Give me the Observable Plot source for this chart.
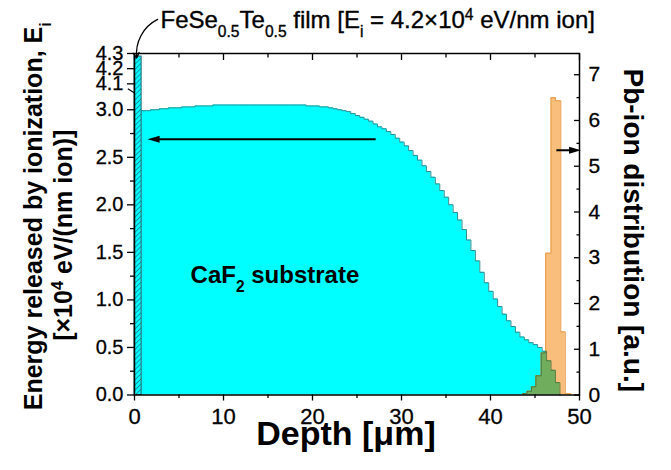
<!DOCTYPE html>
<html><head><meta charset="utf-8">
<script src="https://cdn.jsdelivr.net/npm/d3@7"></script>
<script src="https://cdn.jsdelivr.net/npm/@observablehq/plot@0.6"></script>
<style>body{margin:0;background:#fff;} #chart{width:671px;height:470px;}</style>
</head><body><div id="chart"></div>
<script>
// ---------- data ----------
const filmDepth = [0, 0.8];          // µm, FeSe0.5Te0.5 film
const filmEi = 4.28;                 // ×10^4 eV/(nm ion)

// CaF2 substrate: energy released by ionization, bin left edges (µm) and values
const cyanDepth = [0.8,1.3,1.8,2.3,2.8,3.3,3.8,4.3,4.8,5.3,5.8,6.3,6.8,7.3,7.8,8.3,8.8,
  9.3,9.8,10.3,10.8,11.3,11.8,12.3,12.8,13.3,13.8,14.3,14.8,15.3,15.8,16.3,16.8,17.3,17.8,18.3,18.8,
  19.3,19.8,20.3,20.8,21.3,21.8,22.3,22.8,23.3,23.8,24.3,24.8,25.3,25.8,26.3,26.8,27.3,27.8,28.3,28.8,
  29.3,29.8,30.3,30.8,31.3,31.8,32.3,32.8,33.3,33.8,34.3,34.8,35.3,35.8,36.3,36.8,37.3,37.8,38.3,38.8,
  39.3,39.8,40.3,40.8,41.3,41.8,42.3,42.8,43.3,43.8,44.3,44.8,45.3,45.8,46.3,46.8,47.3,47.8];
const cyanEi = [2.99,2.99,3.00,3.00,3.01,3.01,3.02,3.02,3.02,3.03,3.03,3.03,3.04,3.04,3.04,3.04,3.05,
  3.05,3.05,3.05,3.05,3.05,3.05,3.05,3.05,3.05,3.05,3.05,3.05,3.05,3.05,3.05,3.05,3.05,3.05,3.05,3.05,
  3.04,3.04,3.04,3.03,3.03,3.02,3.01,3.00,2.99,2.98,2.96,2.94,2.92,2.90,2.88,2.85,2.82,2.80,2.77,2.74,
  2.70,2.66,2.62,2.57,2.52,2.47,2.41,2.35,2.29,2.22,2.15,2.08,2.00,1.92,1.84,1.74,1.63,1.52,1.41,1.29,
  1.18,1.09,1.01,0.93,0.85,0.78,0.72,0.66,0.61,0.58,0.55,0.53,0.50,0.46,0.36,0.26,0.13,0];

// Pb-ion distribution [a.u.], bin left edges (µm) and values
const pbDepth = [43.6,44.1,44.6,45.1,45.7,46.2,46.8,47.3,47.9,48.4,49.0];
const pbDist  = [0.03,0.08,0.18,0.42,0.92,3.10,6.50,6.43,1.38,0.03,0];

// ticks
const xMajor = [0,10,20,30,40,50];
const xMinor = [5,15,25,35,45];
const leftMajor = [0,0.5,1.0,1.5,2.0,2.5,3.0,4.1,4.2,4.3];
const leftMinor = [0.25,0.75,1.25,1.75,2.25,2.75];
const rightMajor = [0,1,2,3,4,5,6,7];
const rightMinor = [0.5,1.5,2.5,3.5,4.5,5.5,6.5];

// texts
const xTitle = "Depth [μm]";
const yTitle1 = "Energy released by ionization, E_{i}";
const yTitle2 = "[×10^{4} eV/(nm ion)]";
const y2Title = "Pb-ion distribution [a.u.]";
const filmNote = "FeSe_{0.5}Te_{0.5} film [E_{i} = 4.2×10^{4} eV/nm ion]";
const substrateNote = "CaF_{2} substrate";

// ---------- broken left axis mapping ----------
const BRK_LO = 3.22, BRK_HI = 4.067, TOPK = 1.595;
const disp = v => v <= BRK_LO ? v : (v >= BRK_HI ? BRK_LO + (v - BRK_HI) * TOPK : BRK_LO);
const RK = 0.4812; // right-axis unit in left display units

const cyanRows = cyanDepth.map((x, i) => ({x, y: disp(cyanEi[i])}));
const pbRows = pbDepth.map((x, i) => ({x, y: pbDist[i] * RK}));
function stepVal(edges, vals, x) {
  if (x < edges[0] || x >= edges[edges.length - 1]) return 0;
  return vals[d3.bisectRight(edges, x) - 1];
}
const cy = cyanRows.map(d => d.y), py = pbRows.map(d => d.y);
const lo = pbDepth[0], hi = Math.min(cyanDepth[cyanDepth.length-1], pbDepth[pbDepth.length-1]);
const mergedEdges = Array.from(new Set([...cyanDepth, ...pbDepth])).filter(x => x >= lo && x <= hi).sort((a,b)=>a-b);
const greenRows = mergedEdges.map(x => ({x, y: x >= hi ? 0 : Math.min(stepVal(cyanDepth, cy, x), stepVal(pbDepth, py, x))}));

const film = [{x1: filmDepth[0], x2: filmDepth[1], y: filmEi}];
const arrowsH = [
  {x1: 27.1, x2: 2.15, y: 2.69, dir: "left"},
  {x1: 47.4, x2: 49.5, y: 2.574, dir: "right"}
];
const headSym = {draw(ctx) { ctx.moveTo(-6, 0); ctx.lineTo(6, -3.6); ctx.lineTo(6, 3.6); ctx.closePath(); }};

const CYAN = "#00ffff", CYAN_EDGE = "#2a8f94", ORANGE = "#f9bd7c", ORANGE_EDGE = "#e79a45",
      GREEN = "#70ad5c", GREEN_EDGE = "#3c6e3a";
const FONT = "'Liberation Sans', Arial, Helvetica, sans-serif";
const TXT = {fill: "black", stroke: "black", strokeWidth: 0.35};
const TICKTXT = {textStroke: "black", textStrokeWidth: 0.3};

const plot = Plot.plot({
  width: 671, height: 470,
  marginLeft: 134, marginRight: 92, marginTop: 53, marginBottom: 75.5,
  style: {fontFamily: FONT, background: "white", color: "black", overflow: "visible"},
  x: {domain: [0, 50], axis: null},
  y: {domain: [0, disp(4.3)], axis: null},
  marks: [
    Plot.areaY(cyanRows, {x: "x", y: "y", curve: "step-after", fill: CYAN}),
    Plot.lineY(cyanRows, {x: "x", y: "y", curve: "step-after", stroke: CYAN_EDGE, strokeWidth: 1}),
    Plot.areaY(pbRows, {x: "x", y: "y", curve: "step-after", fill: ORANGE}),
    Plot.lineY(pbRows, {x: "x", y: "y", curve: "step-after", stroke: ORANGE_EDGE, strokeWidth: 1}),
    Plot.areaY(greenRows, {x: "x", y: "y", curve: "step-after", fill: GREEN}),
    Plot.lineY(greenRows, {x: "x", y: "y", curve: "step-after", stroke: GREEN_EDGE, strokeWidth: 0.8}),
    Plot.rectY(film, {x1: "x1", x2: "x2", y: d => disp(d.y), fill: CYAN}),
    Plot.rectY(film, {x1: "x1", x2: "x2", y: d => disp(d.y), fill: "url(#filmHatch)", stroke: "#1d6670", strokeWidth: 1}),
    Plot.frame({stroke: "black", strokeWidth: 1.5}),
    // x axes
    Plot.axisX(xMajor, {anchor: "bottom", tickSize: 6, tickPadding: 7, fontSize: 22, strokeWidth: 1.3, label: null, ...TICKTXT}),
    Plot.axisX(xMinor, {anchor: "bottom", tickSize: 3.5, fill: "none", strokeWidth: 1.3, label: null}),
    Plot.axisX(xMajor, {anchor: "top", tickSize: 6, dy: 6, fill: "none", strokeWidth: 1.3, label: null}),
    Plot.axisX(xMinor, {anchor: "top", tickSize: 3.5, dy: 3.5, fill: "none", strokeWidth: 1.3, label: null}),
    // left axis (broken)
    Plot.axisY(leftMajor, {anchor: "left", y: disp, tickSize: 7, tickPadding: 4, fontSize: 20, strokeWidth: 1.3,
      tickFormat: d => d.toFixed(1), label: null, ...TICKTXT}),
    Plot.axisY(leftMinor, {anchor: "left", y: disp, tickSize: 4, fill: "none", strokeWidth: 1.3, label: null}),
    // right axis
    Plot.axisY(rightMajor, {anchor: "right", y: r => r * RK, tickSize: 6, dx: -6, fill: "none", strokeWidth: 1.3, label: null}),
    Plot.axisY(rightMinor, {anchor: "right", y: r => r * RK, tickSize: 3.5, dx: -3.5, fill: "none", strokeWidth: 1.3, label: null}),
    Plot.axisY(rightMajor, {anchor: "right", y: r => r * RK, tickSize: 0, tickPadding: 9, fontSize: 21,
      tickFormat: d => String(d), label: null, ...TICKTXT}),
    // axis break mark
    Plot.link([{a: -0.75, b: 0.0}], {x1: "a", x2: "b", y1: () => disp(4.045), y2: () => 3.175, stroke: "black", strokeWidth: 1.2}),
    // arrows
    Plot.link(arrowsH, {x1: "x1", x2: "x2", y1: "y", y2: "y", stroke: "black", strokeWidth: 2}),
    Plot.dot(arrowsH, {x: "x2", y: "y", symbol: headSym, r: 4, fill: "black", stroke: null,
      rotate: d => d.dir === "left" ? 0 : 180}),
    Plot.arrow([{x1: 2.6, y1: 3.95, x2: 0.25, y2: disp(4.27)}], {x1: "x1", y1: "y1", x2: "x2", y2: "y2",
      bend: -35, headLength: 7, strokeWidth: 1.3, stroke: "black"}),
    // annotations
    Plot.text([filmNote], {x: 2.92, y: 3.94, text: d => d, textAnchor: "start", fontSize: 24, ...TXT}),
    Plot.text([substrateNote], {x: 6.3, y: 1.26, text: d => d, textAnchor: "start", fontSize: 24, fontWeight: "bold"}),
    // axis titles
    Plot.text([xTitle], {frameAnchor: "bottom", text: d => d, textAnchor: "middle", dx: -11, dy: 50, fontSize: 34, fontWeight: "bold"}),
    Plot.text([yTitle1], {frameAnchor: "left", text: d => d, textAnchor: "middle", rotate: -90, dx: -101, dy: -8, fontSize: 25, fontWeight: "bold"}),
    Plot.text([yTitle2], {frameAnchor: "left", text: d => d, textAnchor: "middle", rotate: -90, dx: -71, dy: 11, fontSize: 25, fontWeight: "bold"}),
    Plot.text([y2Title], {frameAnchor: "right", text: d => d, textAnchor: "middle", rotate: 90, dx: 53, dy: 6, fontSize: 28, fontWeight: "bold"})
  ]
});

// hatch pattern for the film
const NS = "http://www.w3.org/2000/svg";
const defs = document.createElementNS(NS, "defs");
const pat = document.createElementNS(NS, "pattern");
pat.setAttribute("id", "filmHatch");
pat.setAttribute("patternUnits", "userSpaceOnUse");
pat.setAttribute("width", "3.6"); pat.setAttribute("height", "3.6");
pat.setAttribute("patternTransform", "rotate(45)");
const ln = document.createElementNS(NS, "line");
ln.setAttribute("x1", "0"); ln.setAttribute("y1", "0"); ln.setAttribute("x2", "0"); ln.setAttribute("y2", "3.6");
ln.setAttribute("stroke", "#1d6670"); ln.setAttribute("stroke-width", "1.3");
pat.appendChild(ln); defs.appendChild(pat);
plot.insertBefore(defs, plot.firstChild);

// sub/superscripts
function richify(svg) {
  svg.querySelectorAll("text").forEach(t => {
    const s = t.textContent;
    if (!/[_^]\{/.test(s)) return;
    while (t.firstChild) t.removeChild(t.firstChild);
    const re = /([_^])\{([^}]*)\}/g;
    let last = 0, m;
    const add = (str, kind) => {
      const ts = document.createElementNS(NS, "tspan");
      ts.textContent = str;
      if (kind) { ts.setAttribute("baseline-shift", kind === "_" ? "sub" : "super"); ts.setAttribute("font-size", "65%"); }
      t.appendChild(ts);
    };
    while ((m = re.exec(s))) { if (m.index > last) add(s.slice(last, m.index)); add(m[2], m[1]); last = re.lastIndex; }
    if (last < s.length) add(s.slice(last));
  });
}
richify(plot);
document.getElementById("chart").appendChild(plot);
</script>
</body></html>
